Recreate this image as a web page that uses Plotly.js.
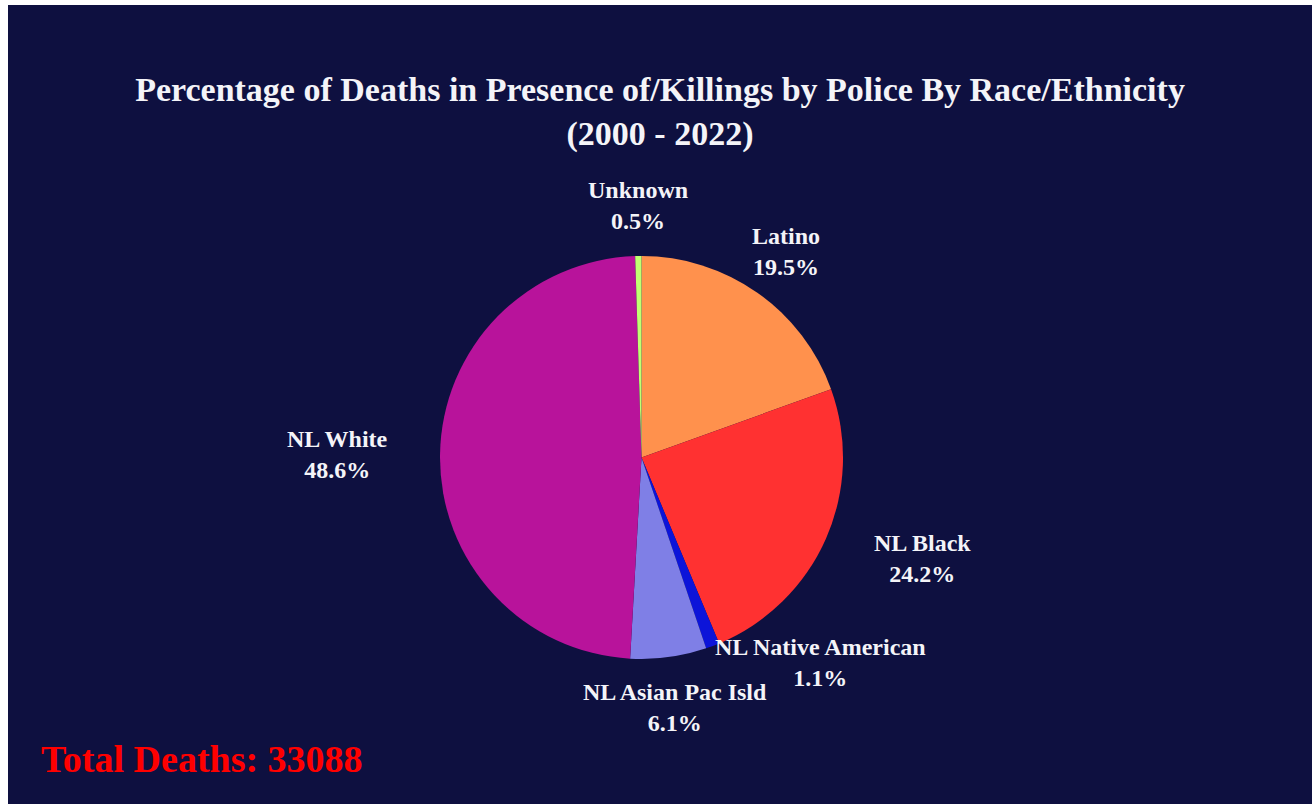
<!DOCTYPE html>
<html>
<head>
<meta charset="utf-8">
<script src="https://cdn.plot.ly/plotly-3.0.1.min.js"></script>
<style>
  html, body { margin: 0; padding: 0; background: #ffffff; width: 1312px; height: 804px; overflow: hidden; }
  #chart { position: absolute; left: 8px; top: 5px; width: 1304px; height: 799px; }
</style>
</head>
<body>
<div id="chart"></div>
<script>
// ---- data ----
const categories = ["Latino", "NL Black", "NL Native American", "NL Asian Pac Isld", "NL White", "Unknown"];
const percentValues = [19.5, 24.2, 1.1, 6.1, 48.6, 0.5];
const sliceColors = ["#ff914d", "#ff3131", "#0c14d9", "#7f7fe6", "#b8139b", "#c1ff72"];
const totalDeaths = 33088;
const chartTitle = "Percentage of Deaths in Presence of/Killings by Police By Race/Ethnicity<br>(2000 - 2022)";

// ---- layout geometry ----
const W = 1304, H = 799;
const cx = 633.5, cy = 452.5, r = 201.5;     // pie centre/radius in plot pixels
const labelDistance = 1.25;
const labelNudge = { "NL Native American": [90, -31] };
const FONT = "Liberation Serif, Times New Roman, serif";

const domain = {
  x: [(cx - r) / W, (cx + r) / W],
  y: [1 - (cy + r) / H, 1 - (cy - r) / H]
};

const total = percentValues.reduce((a, b) => a + b, 0);
let cum = 0;
const annotations = categories.map((cat, i) => {
  const mid = (cum + percentValues[i] / 2) / total;
  cum += percentValues[i];
  const th = 2 * Math.PI * mid;
  const s = Math.sin(th), c = Math.cos(th);
  let px = cx + labelDistance * r * s;
  let py = cy - labelDistance * r * c;
  let xanchor = "center";
  if (s > 0.8) xanchor = "left";
  else if (s < -0.8) xanchor = "right";
  if (labelNudge[cat]) { px += labelNudge[cat][0]; py += labelNudge[cat][1]; xanchor = "center"; }
  const pct = (100 * percentValues[i] / total).toFixed(1) + "%";
  return {
    text: cat + "<br>" + pct,
    x: px / W, y: 1 - py / H, xref: "paper", yref: "paper",
    xanchor: xanchor, yanchor: "middle", showarrow: false, align: "center",
    font: { family: FONT, size: 24, color: "#f4f4f8", weight: "bold" }
  };
});

annotations.push({
  text: "Total Deaths: " + totalDeaths,
  x: 31 / W, y: 1 - 754 / H, xref: "paper", yref: "paper",
  xanchor: "left", yanchor: "middle", showarrow: false,
  font: { family: FONT, size: 38, color: "#ff0000", weight: "bold" }
});

const trace = {
  type: "pie",
  labels: categories,
  values: percentValues,
  marker: { colors: sliceColors, line: { width: 0 } },
  sort: false,
  direction: "clockwise",
  rotation: 0,
  textinfo: "none",
  hoverinfo: "label+percent",
  domain: domain,
  showlegend: false
};

const layout = {
  width: W, height: H,
  margin: { l: 0, r: 0, t: 0, b: 0 },
  paper_bgcolor: "#0e1040",
  plot_bgcolor: "#0e1040",
  showlegend: false,
  title: {
    text: chartTitle,
    x: 0.5, xanchor: "center",
    y: 0.88, yanchor: "top", yref: "container",
    font: { family: FONT, size: 34, color: "#f4f4f8", weight: "bold" }
  },
  annotations: annotations
};

Plotly.newPlot("chart", [trace], layout, { displayModeBar: false, staticPlot: true });
</script>
</body>
</html>
